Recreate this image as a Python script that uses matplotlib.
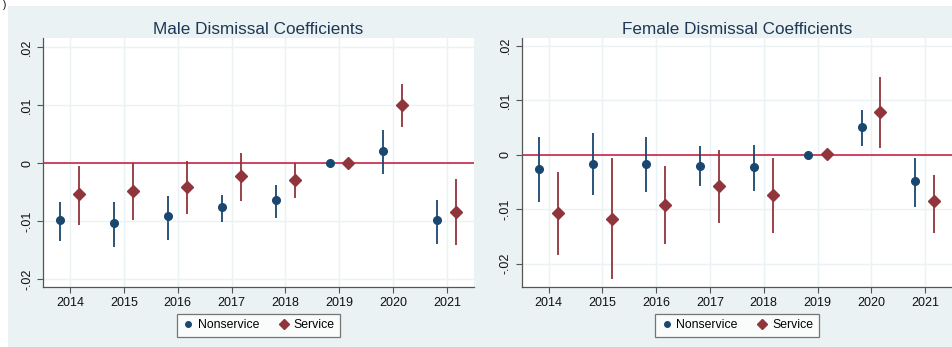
import matplotlib
matplotlib.use('Agg')
import matplotlib.pyplot as plt
from matplotlib.patches import Rectangle
from matplotlib.lines import Line2D
from matplotlib.ticker import FuncFormatter

years = [2014, 2015, 2016, 2017, 2018, 2019, 2020, 2021]

# male coefficients (point, lower, upper); 2019 is the base year, no interval
male_ns = [-0.0099, -0.0104, -0.0091, -0.0076, -0.0064, 0.0, 0.0020, -0.0099]
male_ns_lo = [-0.0134, -0.0145, -0.0132, -0.0102, -0.0094, None, -0.0018, -0.0140]
male_ns_hi = [-0.0068, -0.0067, -0.0056, -0.0055, -0.0038, None, 0.0057, -0.0064]
male_sv = [-0.0054, -0.0048, -0.0042, -0.0022, -0.0029, 0.0001, 0.0100, -0.0084]
male_sv_lo = [-0.0107, -0.0099, -0.0088, -0.0065, -0.0061, None, 0.0062, -0.0141]
male_sv_hi = [-0.0005, 0.0001, 0.0003, 0.0018, 0.0001, None, 0.0137, -0.0028]

# female coefficients
fem_ns = [-0.0026, -0.0017, -0.0017, -0.0021, -0.0022, 0.0, 0.0050, -0.0049]
fem_ns_lo = [-0.0087, -0.0075, -0.0069, -0.0058, -0.0066, None, 0.0015, -0.0096]
fem_ns_hi = [0.0033, 0.0039, 0.0033, 0.0015, 0.0018, None, 0.0082, -0.0006]
fem_sv = [-0.0108, -0.0118, -0.0092, -0.0058, -0.0074, 0.0001, 0.0078, -0.0085]
fem_sv_lo = [-0.0185, -0.0228, -0.0164, -0.0125, -0.0143, None, 0.0013, -0.0143]
fem_sv_hi = [-0.0032, -0.0007, -0.0021, 0.0008, -0.0007, None, 0.0142, -0.0038]

yticks = [-0.02, -0.01, 0, 0.01, 0.02]

navy = '#1a476f'
maroon = '#90353b'
bg = '#eaf2f3'
zero_col = '#c8264a'
title_col = '#1e3756'

plt.rcParams['font.family'] = ['Liberation Sans', 'DejaVu Sans']

fig = plt.figure(figsize=(9.52, 3.47), dpi=100)
fig.patches.append(Rectangle((8 / 952, 0), 1, 1 - 6 / 347, transform=fig.transFigure,
                             facecolor=bg, edgecolor='none', zorder=-10))
fig.text(0.003, 0.999, ')', fontsize=7, ha='left', va='top')


def stata_fmt(v, pos):
    if abs(v) < 1e-9:
        return '0'
    s = '%.2f' % v
    return s.replace('0.', '.')


def draw_ci(ax, xs, lo, hi, color):
    for x, a, b in zip(xs, lo, hi):
        if a is None:
            continue
        ax.plot([x, x], [a, b], color=color, lw=1.3, solid_capstyle='butt', zorder=3)


def panel(ax, title, ns, ns_lo, ns_hi, sv, sv_lo, sv_hi, ylim):
    ax.set_facecolor('white')
    x_ns = [y - 0.18 for y in years]
    x_sv = [y + 0.17 for y in years]
    ax.axhline(0, color=zero_col, lw=1.2, zorder=2)
    draw_ci(ax, x_ns, ns_lo, ns_hi, navy)
    draw_ci(ax, x_sv, sv_lo, sv_hi, maroon)
    ax.plot(x_ns, ns, 'o', color=navy, ms=5.5, zorder=4, label='Nonservice')
    ax.plot(x_sv, sv, 'D', color=maroon, ms=6, zorder=4, label='Service')
    ax.set_xlim(2013.5, 2021.5)
    ax.set_ylim(*ylim)
    ax.set_xticks(years)
    ax.set_yticks(yticks)
    ax.yaxis.set_major_formatter(FuncFormatter(stata_fmt))
    ax.grid(True, color=bg, lw=1.0, zorder=0)
    ax.set_axisbelow(True)
    for s in ['top', 'right']:
        ax.spines[s].set_visible(False)
    for s in ['left', 'bottom']:
        ax.spines[s].set_color('#555555')
        ax.spines[s].set_linewidth(0.9)
    ax.tick_params(direction='out', length=4, width=0.8, color='#555555',
                   labelsize=9, labelcolor='#111111', pad=3)
    for lab in ax.get_yticklabels():
        lab.set_rotation(90)
        lab.set_va('center')
    ax.set_title(title, fontsize=12.3, color=title_col, pad=3)
    handles = [Line2D([], [], marker='o', ls='', color=navy, ms=4),
               Line2D([], [], marker='D', ls='', color=maroon, ms=5)]
    leg = ax.legend(handles, ['Nonservice', 'Service'], loc='center',
                    bbox_to_anchor=(0.5, -0.153), ncol=2, fontsize=8.8,
                    frameon=True, fancybox=False, handletextpad=0.3,
                    columnspacing=1.5, handlelength=1.0, borderpad=0.45)
    leg.get_frame().set_edgecolor('#555555')
    leg.get_frame().set_linewidth(0.9)


ax1 = fig.add_axes([43 / 952, 1 - 287 / 347, 431 / 952, 249 / 347])
ax2 = fig.add_axes([521.7 / 952, 1 - 287 / 347, 430.3 / 952, 249 / 347])

panel(ax1, 'Male Dismissal Coefficients', male_ns, male_ns_lo, male_ns_hi,
      male_sv, male_sv_lo, male_sv_hi, (-0.0214, 0.0216))
panel(ax2, 'Female Dismissal Coefficients', fem_ns, fem_ns_lo, fem_ns_hi,
      fem_sv, fem_sv_lo, fem_sv_hi, (-0.0243, 0.0214))

plt.savefig('out.png', dpi=100, facecolor='white')
